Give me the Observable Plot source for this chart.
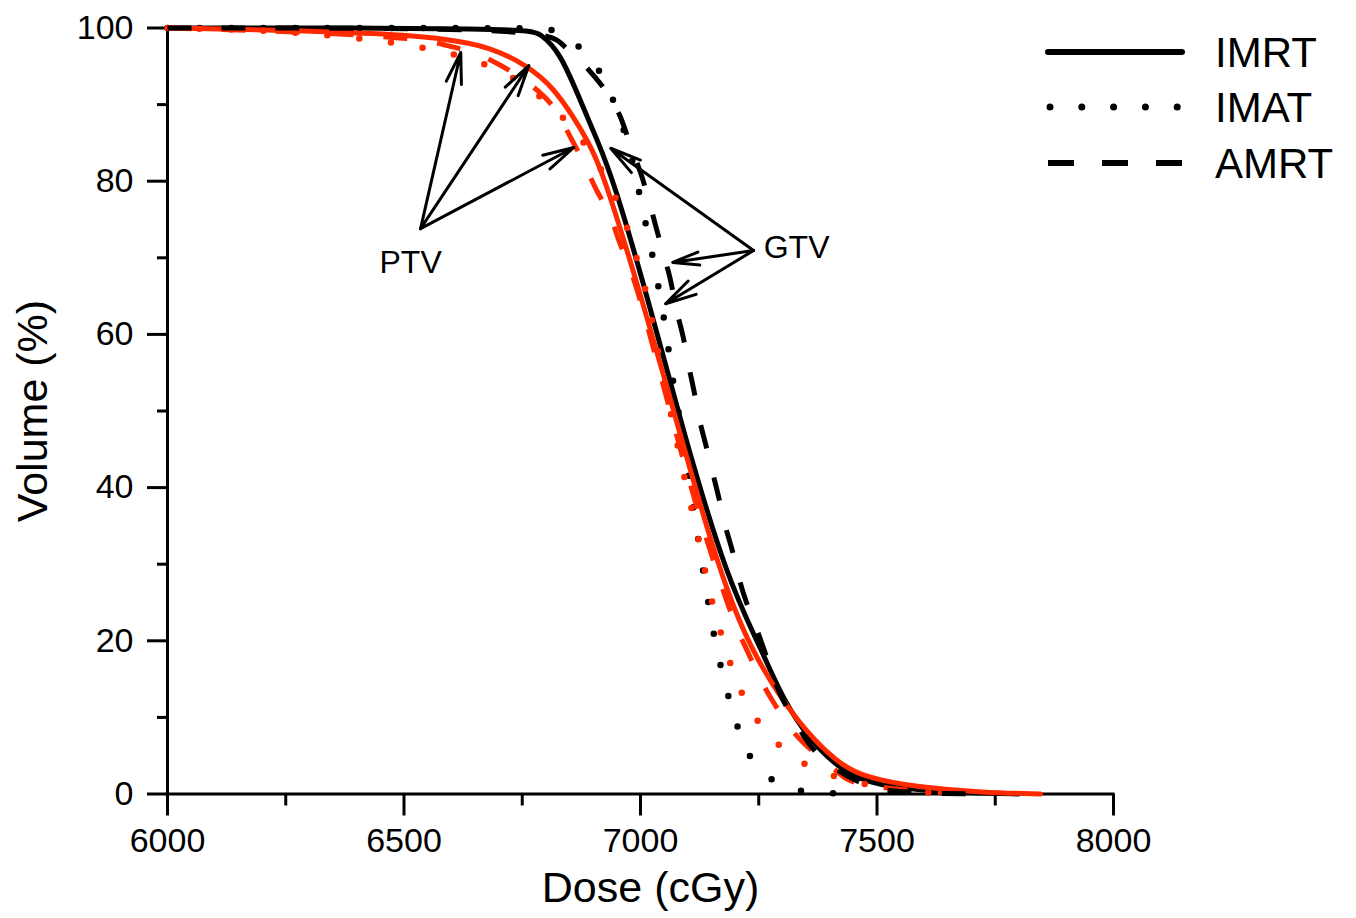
<!DOCTYPE html>
<html>
<head>
<meta charset="utf-8">
<script src="https://cdn.jsdelivr.net/npm/d3@7"></script>
<script src="https://cdn.jsdelivr.net/npm/@observablehq/plot@0.6"></script>
<style>
  html, body { margin: 0; padding: 0; background: #fff; }
  #wrap { position: relative; width: 1356px; height: 918px; font-family: "Liberation Sans", Arial, sans-serif; }
  #legend { position: absolute; left: 0; top: 0; pointer-events: none; }
</style>
</head>
<body>
<div id="wrap"></div>
<script>
// ---- data ----
const xMajorTicks = [6000, 6500, 7000, 7500, 8000];
const xMinorTicks = [6250, 6750, 7250, 7750];
const yMajorTicks = [0, 20, 40, 60, 80, 100];
const yMinorTicks = [10, 30, 50, 70, 90];

const xTitle = "Dose (cGy)";
const yTitle = "Volume (%)";

// GTV (black)
const gtvImrtDose = [6000, 6757, 6789, 6831, 6873, 6909, 6943, 7017, 7091, 7184, 7254, 7302, 7359, 7417, 7480, 7586, 7700, 7800];
const gtvImrtVol  = [100, 100, 99.3, 96.7, 90.5, 85.3, 80.1, 64.4, 47.1, 27.9, 19.1, 12.2, 7.0, 3.5, 1.4, 0.5, 0.1, 0];

const gtvImatDose = [6000, 6790, 6816, 6880, 6930, 6975, 6990, 7004, 7019, 7034, 7045, 7057, 7064, 7091, 7110, 7121, 7131, 7142, 7154, 7169, 7186, 7207, 7233, 7296, 7364, 7450];
const gtvImatVol  = [100, 100, 99.9, 97.4, 93.1, 84.9, 80.7, 76.4, 72.2, 67.7, 63.6, 59.5, 55.3, 46.5, 38.1, 33.7, 29.6, 25.5, 21.0, 16.8, 12.6, 8.3, 4.1, 0.7, 0.2, 0];

const gtvAmrtDose = [6000, 6800, 6831, 6880, 6930, 6960, 6979, 7000, 7019, 7032, 7049, 7064, 7075, 7090, 7100, 7113, 7123, 7138, 7153, 7166, 7180, 7195, 7210, 7222, 7240, 7260, 7289, 7317, 7353, 7395, 7487, 7515, 7600, 7700];
const gtvAmrtVol  = [100, 100, 98.0, 95.4, 91.7, 88.4, 84.4, 81.4, 77.2, 74.2, 70.3, 67.3, 63.1, 60.1, 56.2, 52.9, 49.0, 45.7, 41.8, 38.7, 34.6, 31.8, 27.6, 25.3, 22.4, 19.2, 13.5, 10.5, 6.6, 3.7, 0.7, 0.5, 0.1, 0];

// PTV (red)
const ptvImrtDose = [6000, 6200, 6451, 6592, 6683, 6761, 6816, 6859, 6888, 6920, 7004, 7064, 7127, 7184, 7233, 7290, 7353, 7417, 7471, 7586, 7725, 7846];
const ptvImrtVol  = [100, 99.8, 99.3, 98.6, 97.5, 95.1, 92.2, 88.3, 85.3, 81.4, 64.4, 51.4, 37.4, 26.2, 19.1, 13.1, 7.9, 4.1, 2.2, 0.85, 0.2, 0];

const ptvImatDose = [6000, 6300, 6613, 6760, 6878, 6952, 6975, 6996, 7015, 7028, 7042, 7085, 7100, 7116, 7131, 7144, 7163, 7184, 7207, 7243, 7300, 7366, 7438, 7520, 7650];
const ptvImatVol  = [100, 99.6, 97.1, 93.0, 86.0, 77.7, 73.3, 69.2, 64.8, 60.5, 56.3, 43.5, 39.4, 35.1, 30.9, 26.8, 22.4, 18.1, 13.9, 9.6, 5.7, 3.1, 1.8, 0.6, 0];

const ptvAmrtDose = [6000, 6300, 6535, 6585, 6652, 6700, 6753, 6821, 6848, 6880, 6905, 6937, 6954, 6986, 7056, 7118, 7176, 7205, 7226, 7254, 7282, 7324, 7353, 7430, 7444, 7550, 7700];
const ptvAmrtVol  = [100, 99.5, 98.6, 97.8, 96.8, 95.3, 93.4, 89.9, 86.0, 82.7, 78.8, 75.8, 71.9, 68.0, 51.4, 37.4, 26.2, 21.3, 18.7, 14.8, 11.8, 7.9, 6.1, 2.2, 1.5, 0.46, 0];

// legend
const techniques = ["IMRT", "IMAT", "AMRT"];

// annotations (arrow tails at label, heads at curves)
const annLabels = ["PTV", "GTV"];
const annLabelDose = [6514, 7330];
const annLabelVol = [69.4, 71.3];
const annFrom = ["PTV", "PTV", "PTV", "GTV", "GTV", "GTV"];
const annFromDose = [6535, 6535, 6535, 7239, 7239, 7239];
const annFromVol = [73.8, 73.8, 73.8, 70.95, 70.95, 70.95];
const annToDose = [6620, 6764, 6859, 6937, 7068, 7053];
const annToVol = [96.8, 95.1, 84.4, 84.3, 69.4, 64.0];

// ---- styles ----
const RED = "#ff2a00";
const BLACK = "#000000";
const styleOf = {
  IMRT: {strokeWidth: 5, strokeDasharray: null, strokeLinecap: "round"},
  IMAT: {strokeWidth: 6.5, strokeDasharray: "0,32", strokeLinecap: "round"},
  AMRT: {strokeWidth: 5, strokeDasharray: "24,30", strokeLinecap: "butt"}
};

function rows(dose, vol) { return dose.map((d, i) => ({dose: d, vol: vol[i]})); }
function curve(dose, vol, color, tech) {
  const s = styleOf[tech];
  return Plot.line(rows(dose, vol), {
    x: "dose", y: "vol", stroke: color, curve: "basis",
    strokeWidth: s.strokeWidth, strokeDasharray: s.strokeDasharray,
    strokeLinecap: s.strokeLinecap, strokeLinejoin: "round"
  });
}

const arrows = annFrom.map((n, i) => ({x1: annFromDose[i], y1: annFromVol[i], x2: annToDose[i], y2: annToVol[i]}));
const labels = annLabels.map((t, i) => ({t, x: annLabelDose[i], y: annLabelVol[i]}));
const fmt = d => String(d);

const chart = Plot.plot({
  width: 1356,
  height: 918,
  marginLeft: 167,
  marginRight: 243,
  marginTop: 27.5,
  marginBottom: 124.5,
  x: {domain: [6000, 8000]},
  y: {domain: [0, 100]},
  style: {fontFamily: "'Liberation Sans', Arial, sans-serif", background: "#fff", color: "#000"},
  marks: [
    Plot.axisY({ticks: yMinorTicks, tickSize: 10, tickFormat: () => "", strokeWidth: 3, label: null}),
    Plot.axisY({ticks: yMajorTicks, tickSize: 20, tickPadding: 14, tickFormat: fmt, fontSize: 34, strokeWidth: 3, label: null}),
    Plot.axisX({ticks: xMinorTicks, tickSize: 12, tickFormat: () => "", strokeWidth: 3, label: null}),
    Plot.axisX({ticks: xMajorTicks, tickSize: 22, tickPadding: 12, tickFormat: fmt, fontSize: 34, strokeWidth: 3, label: null}),
    Plot.ruleX([6000], {y1: 0, y2: 100, strokeWidth: 3, strokeLinecap: "square"}),
    Plot.ruleY([0], {x1: 6000, x2: 8000, strokeWidth: 3, strokeLinecap: "square"}),
    curve(gtvImrtDose, gtvImrtVol, BLACK, "IMRT"),
    curve(gtvImatDose, gtvImatVol, BLACK, "IMAT"),
    curve(ptvImrtDose, ptvImrtVol, RED, "IMRT"),
    curve(ptvImatDose, ptvImatVol, RED, "IMAT"),
    curve(ptvAmrtDose, ptvAmrtVol, RED, "AMRT"),
    curve(gtvAmrtDose, gtvAmrtVol, BLACK, "AMRT"),
    Plot.arrow(arrows, {x1: "x1", y1: "y1", x2: "x2", y2: "y2", stroke: BLACK, strokeWidth: 3, headLength: 16, headAngle: 28}),
    Plot.text(labels, {x: "x", y: "y", text: "t", fontSize: 32, fill: BLACK}),
    Plot.text([xTitle], {frameAnchor: "bottom", textAnchor: "middle", lineAnchor: "middle", dx: 10, dy: 94.5, fontSize: 43, fill: BLACK}),
    Plot.text([yTitle], {frameAnchor: "left", textAnchor: "middle", lineAnchor: "middle", dx: -134, rotate: -90, fontSize: 43, fill: BLACK})
  ]
});

const wrap = document.getElementById("wrap");
wrap.appendChild(chart);

// legend overlay (top-right, inside the figure)
const legendY = [52, 107, 163];
const svg = d3.select(wrap).append("svg")
  .attr("id", "legend").attr("width", 1356).attr("height", 918);
techniques.forEach((t, i) => {
  const s = styleOf[t];
  const y = legendY[i];
  svg.append("line")
    .attr("x1", t === "IMAT" ? 1050 : 1048).attr("x2", 1182)
    .attr("y1", y).attr("y2", y)
    .attr("stroke", BLACK)
    .attr("stroke-width", t === "IMAT" ? 7 : 6)
    .attr("stroke-linecap", s.strokeLinecap)
    .attr("stroke-dasharray", t === "IMAT" ? "0,31.8" : t === "AMRT" ? "26,28" : null);
  svg.append("text")
    .attr("x", 1215).attr("y", y).attr("dy", "0.36em")
    .attr("font-family", "'Liberation Sans', Arial, sans-serif")
    .attr("font-size", 42).attr("fill", BLACK)
    .text(t);
});
</script>
</body>
</html>
